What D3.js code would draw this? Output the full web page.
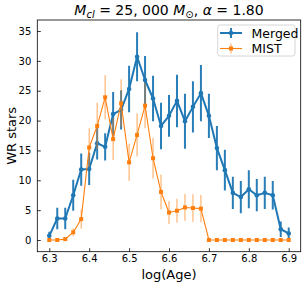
<!DOCTYPE html>
<html><head><meta charset="utf-8">
<script src="https://cdn.jsdelivr.net/npm/d3@7"></script>
<style>body{margin:0;background:#fff}svg{display:block}text{font-family:"DejaVu Sans",sans-serif}</style>
</head><body>
<script>
const ages = [6.30,6.32,6.34,6.36,6.38,6.40,6.42,6.44,6.46,6.48,6.50,6.52,6.54,6.56,6.58,6.60,6.62,6.64,6.66,6.68,6.70,6.72,6.74,6.76,6.78,6.80,6.82,6.84,6.86,6.88,6.90];
const merged = [0.7,3.6,3.6,7.5,11.8,11.9,16.2,15.6,21.1,21.8,25.3,30.7,26.8,23.7,19.1,20.8,23.3,19.9,22.3,24.6,20.8,15.4,11.7,7.9,7.2,8.5,7.5,7.9,7.5,1.8,1.1];
const mergedErr = [0.7,1.8,1.8,2.6,2.7,2.7,2.7,2.3,3.7,3.3,3.9,4.1,4.0,3.8,3.9,3.5,4.4,4.6,4.3,4.7,3.7,3.7,3.4,2.7,2.7,3.2,2.7,2.7,2.4,1.3,1.0];
const mist = [0,0,0.15,1.3,3.5,15.5,19.1,23.9,16.9,22.9,13.0,17.6,22.5,13.7,8.05,4.6,4.9,5.45,5.35,5.25,0,0,0,0,0,0,0,0,0,0,0];
const mistErr = [0,0,0.3,0.65,1.6,3.2,3.9,3.7,3.5,4.0,3.1,3.6,3.8,3.4,2.9,1.9,2.0,2.25,2.3,2.3,0,0,0,0,0,0,0,0,0,0,0];
const xTicks = [6.3,6.4,6.5,6.6,6.7,6.8,6.9];
const yTicks = [0,5,10,15,20,25,30,35];

const W=306,H=287, L=37.3, R=300.7, T=20, B=251.7;
const svg=d3.select("body").append("svg").attr("width",W).attr("height",H);
const x=d3.scaleLinear().domain([6.27,6.93]).range([L,R]);
const y=d3.scaleLinear().domain([-1.96,36.85]).range([B,T]);

// axes with inward ticks
const xAxis=svg.append("g").attr("transform",`translate(0,${B})`)
  .call(d3.axisBottom(x).tickValues(xTicks).tickFormat(d3.format(".1f")).tickSizeInner(-3.5).tickSizeOuter(0).tickPadding(4));
const yAxis=svg.append("g").attr("transform",`translate(${L},0)`)
  .call(d3.axisLeft(y).tickValues(yTicks).tickSizeInner(-3.5).tickSizeOuter(0).tickPadding(6));
[xAxis,yAxis].forEach(g=>{g.select(".domain").remove();g.selectAll("text").attr("font-size",10).attr("fill","#000").style("font-family","DejaVu Sans");g.selectAll("line").attr("stroke","#000").attr("stroke-width",0.8);});
xAxis.selectAll("text").attr("y",3.5);
svg.append("rect").attr("x",L).attr("y",T).attr("width",R-L).attr("height",B-T).attr("fill","none").attr("stroke","#000").attr("stroke-width",0.8);

const clip=svg.append("defs").append("clipPath").attr("id","c").append("rect").attr("x",L).attr("y",T).attr("width",R-L).attr("height",B-T);
const plot=svg.append("g").attr("clip-path","url(#c)");

function series(vals,errs,color,lw,elw,ealpha,marker){
  const g=plot.append("g");
  g.selectAll("line.e").data(ages).join("line")
    .attr("x1",d=>x(d)).attr("x2",d=>x(d))
    .attr("y1",(d,i)=>y(vals[i]-errs[i])).attr("y2",(d,i)=>y(vals[i]+errs[i]))
    .attr("stroke",color).attr("stroke-width",elw).attr("stroke-opacity",ealpha);
  g.append("path").datum(ages).attr("fill","none").attr("stroke",color).attr("stroke-width",lw)
    .attr("stroke-linejoin","round")
    .attr("d",d3.line().x(d=>x(d)).y((d,i)=>y(vals[i])));
  if(marker==="o"){
    g.selectAll("circle").data(ages).join("circle").attr("cx",d=>x(d)).attr("cy",(d,i)=>y(vals[i])).attr("r",2.3).attr("fill",color);
  } else {
    g.selectAll("rect").data(ages).join("rect").attr("x",d=>x(d)-2).attr("y",(d,i)=>y(vals[i])-2).attr("width",4).attr("height",4).attr("fill",color);
  }
}
series(merged,mergedErr,"#1f77b4",2,2,0.95,"o");
series(mist,mistErr,"#ff7f0e",1.1,1,0.7,"s");

// title
const t=svg.append("text").attr("x",(L+R)/2).attr("y",15).attr("text-anchor","middle").attr("font-size",14);
t.append("tspan").attr("font-style","italic").text("M");
t.append("tspan").attr("font-style","italic").attr("font-size",10).attr("dy",3).text("cl");
t.append("tspan").attr("dy",-3).text(" = 25, 000 ");
t.append("tspan").attr("font-style","italic").text("M");
t.append("tspan").attr("font-size",10).attr("dy",3).text("⊙");
t.append("tspan").attr("dy",-3).text(", ");
t.append("tspan").attr("font-style","italic").text("α");
t.append("tspan").text(" = 1.80");

svg.append("text").attr("x",(L+R)/2).attr("y",279).attr("text-anchor","middle").attr("font-size",13).text("log(Age)");
svg.append("text").attr("transform",`translate(16,${(T+B)/2}) rotate(-90)`).attr("text-anchor","middle").attr("font-size",13).text("WR stars");

// legend
const lg=svg.append("g");
lg.append("rect").attr("x",217.7).attr("y",25).attr("width",77.3).attr("height",31).attr("rx",2.5)
  .attr("fill","#fff").attr("fill-opacity",0.8).attr("stroke","#ccc").attr("stroke-width",0.8);
const items=[{n:"Merged",c:"#1f77b4",lw:2,m:"o"},{n:"MIST",c:"#ff7f0e",lw:1.1,m:"s"}];
items.forEach((it,k)=>{
  const cy=33+k*15.5;
  lg.append("line").attr("x1",220).attr("x2",242).attr("y1",cy).attr("y2",cy).attr("stroke",it.c).attr("stroke-width",it.lw);
  lg.append("line").attr("x1",231).attr("x2",231).attr("y1",cy-5).attr("y2",cy+5).attr("stroke",it.c).attr("stroke-width",it.lw===2?2:1).attr("stroke-opacity",it.lw===2?0.95:0.7);
  if(it.m==="o") lg.append("circle").attr("cx",231).attr("cy",cy).attr("r",2.3).attr("fill",it.c);
  else lg.append("rect").attr("x",229).attr("y",cy-2).attr("width",4).attr("height",4).attr("fill",it.c);
  lg.append("text").attr("x",251.5).attr("y",cy+4.5).attr("font-size",12.5).text(it.n);
});
</script>
</body></html>
